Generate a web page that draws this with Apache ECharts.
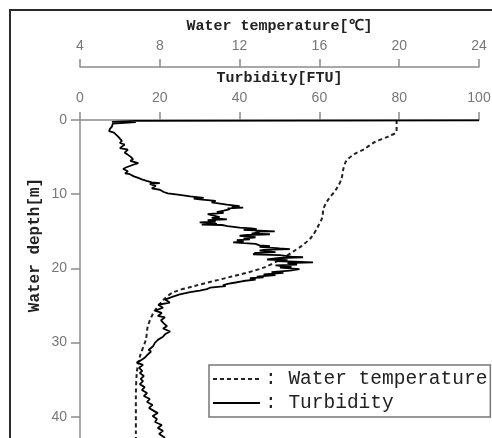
<!DOCTYPE html>
<html>
<head>
<meta charset="utf-8" />
<title>Water depth profile</title>
<script type="text/javascript" src="https://cdn.jsdelivr.net/npm/echarts@6/dist/echarts.min.js"></script>
<style>
  html, body { margin: 0; padding: 0; background: #fff; }
  #chart { width: 492px; height: 438px; }
</style>
</head>
<body>
<div id="chart"></div>
<script>
// turbidity profile [FTU] against depth [m]
var turbDepth = [0.05, 0.12, 0.25, 0.3, 0.5, 0.9, 1.2, 1.5, 1.7, 1.9, 2.2, 2.4, 2.8, 3.1, 3.3, 3.5, 3.8, 4.0, 4.2, 4.4,
    4.6, 5.0, 5.3, 5.5, 5.8, 6.0, 6.2, 6.4, 6.6, 6.9, 7.2, 7.3, 7.6, 7.8, 8.0, 8.2, 8.4, 8.5, 8.6, 8.9,
    9.2, 9.4, 9.7, 9.9, 10.1,
    10.3, 10.5, 10.6, 10.7, 10.9, 11.1, 11.4, 11.6, 11.7, 11.8,
    11.9, 12.0, 12.2, 12.4, 12.5, 12.7, 12.9, 13.1, 13.2, 13.4,
    13.5, 13.7, 13.8, 13.9, 14.0, 14.1, 14.15, 14.3, 14.5, 14.6,
    14.7, 14.8, 15.0, 15.05, 15.1, 15.3, 15.4, 15.5, 15.6, 15.8,
    16.0, 16.1, 16.2, 16.4, 16.5, 16.7, 16.9, 17.0, 17.1, 17.3,
    17.4, 17.5, 17.6, 17.8, 17.9, 18.1, 18.2, 18.4, 18.5, 18.6,
    18.8, 18.9, 19.0, 19.2, 19.3, 19.5, 19.6, 19.8, 19.9, 20.1,
    20.3, 20.5, 20.6, 20.8, 20.9, 21.1, 21.2, 21.3, 21.5, 21.7,
    21.9, 22.1, 22.3, 22.4, 22.6, 22.8, 23.0, 23.2, 23.5, 23.8,
    24.2, 24.6, 24.9, 25.3, 25.7, 26.0, 26.4, 26.6, 27.0, 27.4, 27.8, 28.1, 28.5, 28.8, 29.2, 29.6, 30.0,
    30.5, 31.0, 31.2, 31.6, 32, 32.4, 32.7, 33.0, 33.4, 33.8, 34.1, 34.5, 34.9, 35.2, 35.6, 36.0, 36.4,
    36.8, 37.2, 37.6, 38.0, 38.4, 38.8, 39.2, 39.5, 39.9, 40.3, 40.7, 41.1, 41.5, 41.9, 42.3, 42.8, 43.5];
var turbValue = [100, 14, 8, 14, 8.2, 8, 7.5, 7.3, 8.5, 8.3, 9.5, 9, 10.5, 10, 11.2, 10.7, 10, 12, 12.5, 11.2,
    11.8, 12.8, 13.3, 12.6, 14.6, 13.5, 12.5, 11.5, 10.8, 12, 11.3, 12.5, 13.5, 14.6, 15.5, 16.7, 18, 20, 17.5, 19,
    18, 20, 21, 22, 25,
    27.6, 31, 28.5, 30, 34, 33, 36.8, 40, 38, 40.9,
    37, 37.6, 36, 34.3, 36, 32, 31.8, 35, 33, 36.8,
    32, 34, 30, 33, 34.3, 30.5, 35.6, 37, 40, 43,
    44.3, 41, 48.8, 44, 45, 43, 47.6, 42, 40, 44,
    41, 42.6, 39.3, 41, 38.4, 44, 45, 47.6, 45, 50,
    52.6, 46, 45, 49, 44, 43.4, 50, 53, 55.9, 50,
    46.9, 52, 49, 58.4, 52, 54.4, 49, 53, 50.1, 55,
    52.6, 48, 51, 46, 49, 44.3, 46, 42.6, 44, 40.9,
    39, 37, 35.8, 36.5, 32.6, 31.8, 30, 27.6, 25, 23.3,
    21.3, 22.5, 19.6, 20.8, 18.8, 20.5, 19.5, 21.3, 20.3, 21.0, 21.8, 20.8, 22.6, 21.5, 20.8, 19.6, 18.8,
    18.3, 17.2, 17.8, 17, 16.3, 15.2, 14.2, 15.8, 14.8, 15.6, 15, 16.0, 15.2, 15.8, 15.0, 16.2, 15.5,
    16.8, 16.0, 17.5, 16.8, 18.2, 17.3, 18.5, 19.5, 18.2, 19.3, 18.8, 20.5, 19.5, 20.8, 19.8, 21.2, 20.5];

// water temperature profile [deg C] against depth [m]
var tempDepth = [0, 1.5, 2.2, 3.0, 3.9, 4.6, 5.5, 6.6, 8.0, 9.3, 10.9, 12.0, 13.1, 14.5, 15.8, 17.0, 17.7, 18.4,
    19.9, 21.1, 22.4, 23.2, 24.2, 25.9, 27.8, 29.6, 31.9, 34, 37.7, 42.2, 45];
var tempValue = [19.87, 19.87, 19.47, 18.76, 18.26, 17.75, 17.35, 17.2, 17.1, 16.85, 16.4, 16.2, 16.15, 15.9, 15.6, 15.1, 14.7, 14.3,
    13.2, 11.6, 9.7, 8.7, 8.2, 7.7, 7.4, 7.3, 7.0, 6.85, 6.8, 6.8, 6.8];

var seriesNames = ['Water temperature', 'Turbidity'];

function zip(xs, ys) {
    var out = [];
    for (var i = 0; i < xs.length; i++) out.push([xs[i], ys[i]]);
    return out;
}

var axisGray = '#8c8c8c';
var labelStyle = { color: '#777', fontSize: 14, fontFamily: 'Liberation Sans' };
var nameStyle = { color: '#222', fontSize: 15, fontWeight: 'bold', fontFamily: 'Liberation Mono' };

var chart = echarts.init(document.getElementById('chart'));
chart.setOption({
    animation: false,
    backgroundColor: '#fff',
    grid: { left: 80, top: 120, width: 399, height: 371, outerBoundsMode: 'none', containLabel: false },
    xAxis: [{
        type: 'value', position: 'top', min: 0, max: 100, interval: 20,
        name: 'Turbidity[FTU]', nameLocation: 'middle', nameGap: 32, nameTextStyle: nameStyle,
        axisLine: { show: true, lineStyle: { color: axisGray, width: 1.5 } },
        axisTick: { show: true, length: 8, lineStyle: { color: axisGray, width: 1.5 } },
        axisLabel: Object.assign({ margin: 15 }, labelStyle),
        splitLine: { show: false }
    }, {
        type: 'value', position: 'top', offset: 53, min: 4, max: 24, interval: 4,
        name: 'Water temperature[℃]', nameLocation: 'middle', nameGap: 29, nameTextStyle: nameStyle,
        axisLine: { show: true, lineStyle: { color: axisGray, width: 1.5 } },
        axisTick: { show: true, length: 8, lineStyle: { color: axisGray, width: 1.5 } },
        axisLabel: Object.assign({ margin: 14 }, labelStyle),
        splitLine: { show: false }
    }],
    yAxis: {
        type: 'value', inverse: true, min: 0, max: 50, interval: 10,
        axisLine: { show: true, lineStyle: { color: axisGray, width: 1.5 } },
        axisTick: { show: true, length: 9, lineStyle: { color: axisGray, width: 1.5 } },
        axisLabel: Object.assign({ margin: 13 }, labelStyle),
        splitLine: { show: false }
    },
    legend: {
        orient: 'vertical', left: 209, top: 365,
        padding: [4, 3, 4, 3], itemGap: 4, itemWidth: 47, itemHeight: 14,
        backgroundColor: '#fff', borderColor: '#777', borderWidth: 1.5, borderRadius: 0,
        data: seriesNames,
        itemStyle: { opacity: 0 },
        formatter: function (n) { return ': ' + n; },
        textStyle: { color: '#222', fontSize: 19.5, lineHeight: 20, fontFamily: 'Liberation Mono' }
    },
    graphic: [{
        type: 'rect', silent: true, z: 100,
        shape: { x: 10, y: 10, width: 520, height: 480 },
        style: { fill: null, stroke: '#2a2a2a', lineWidth: 2 }
    }, {
        type: 'text', x: 35, y: 245, rotation: Math.PI / 2,
        style: { text: 'Water depth[m]', fill: '#222', font: 'bold 16px "Liberation Mono"', align: 'center', verticalAlign: 'middle' }
    }],
    series: [{
        name: seriesNames[0], type: 'line', xAxisIndex: 1,
        data: zip(tempValue, tempDepth),
        symbol: 'none', smooth: 0.3,
        lineStyle: { color: '#222', width: 2, type: [4, 3] },
        itemStyle: { color: '#222' }, z: 3
    }, {
        name: seriesNames[1], type: 'line', xAxisIndex: 0,
        data: zip(turbValue, turbDepth),
        symbol: 'none',
        lineStyle: { color: '#000', width: 1.8 },
        itemStyle: { color: '#000' }, z: 4
    }]
});
</script>
</body>
</html>
